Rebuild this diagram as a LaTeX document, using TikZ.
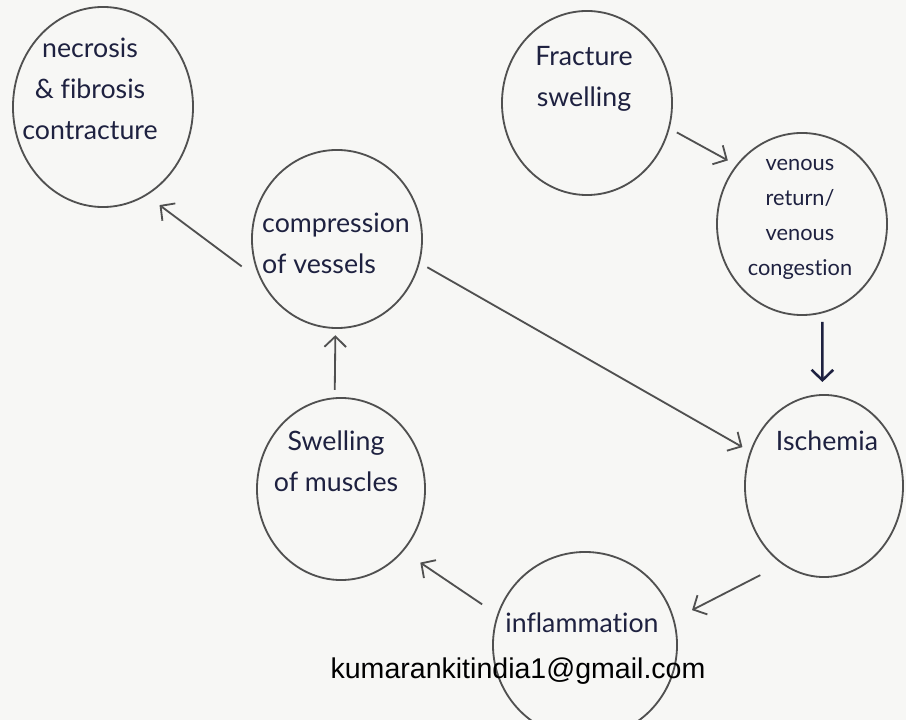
\documentclass[tikz,border=0pt]{standalone}
\usepackage{fontspec}
\setmainfont{Lato}[Ligatures=NoCommon]
\newfontfamily\mailfont{Liberation Sans}
\usetikzlibrary{shapes.geometric,arrows.meta}

\definecolor{ink}{HTML}{1E2140}
\definecolor{pencil}{HTML}{505050}
\definecolor{paper}{HTML}{F7F7F5}

\tikzset{
  bubble/.style={ellipse, draw=pencil, line width=1.3pt, inner sep=0pt, outer sep=0pt},
  note/.style={text=ink, inner sep=0pt, font=\fontsize{19}{29}\selectfont},
  flow/.style={draw=pencil, line width=1.3pt, -{Straight Barb[length=2.6mm,width=5.4mm]}},
}

\begin{document}
\begin{tikzpicture}[x=0.025cm, y=-0.025cm]
	\fill[paper] (0,0) rectangle (906,720);
	\clip (0,0) rectangle (906,720);
	% circles
	\node[bubble, minimum width=4.5cm, minimum height=5cm] (necr) at (103,107) {};
	\node[bubble, minimum width=4.25cm, minimum height=4.6cm] (frac) at (587,103) {};
	\node[bubble, minimum width=4.25cm, minimum height=4.55cm] (ven) at (802,224) {};
	\node[bubble, minimum width=4.25cm, minimum height=4.45cm] (comp) at (337,239) {};
	\node[bubble, minimum width=4.2cm, minimum height=4.55cm] (swel) at (341,489) {};
	\node[bubble, minimum width=3.95cm, minimum height=4.55cm] (isch) at (824,486) {};
	\node[bubble, minimum width=4.6cm, minimum height=4.65cm] (infl) at (585,645) {};
	% labels
	\node[note, align=center] (necrT) at (90,89) {necrosis\\\& fibrosis\\contracture};
	\node[note, align=center] (fracT) at (584,79) {Fracture\\swelling};
	\node[note, align=center, font=\fontsize{15.5}{24.9}\selectfont] (venT) at (800,219) {venous\\return/\\venous\\congestion};
	\node[note, align=left] (compT) at (336,243) {compression\\of vessels};
	\node[note, align=center] (swelT) at (336,461) {Swelling\\of muscles};
	\node[note, anchor=base] (ischT) at (827,450) {Ischemia};
	\node[note, anchor=base] (inflT) at (582,632) {inflammation};
	\node[anchor=base, inner sep=0pt, font=\mailfont\fontsize{20.3}{24}\selectfont] (mail) at (518,678) {kumarankitindia1@gmail.com};
	% arrows
	\draw[flow, shorten <=0.65cm, shorten >=0.425cm] (comp.210) -- (necr.-64);
	\draw[flow, shorten <=0.23cm, shorten >=0.26cm] (frac.-17) -- (ven.138);
	\draw[flow, draw=ink, line width=1.8pt, shorten <=0.24cm, shorten >=0.325cm] (ven.-77) -- (isch.91);
	\draw[flow, shorten <=0.24cm, shorten >=0.24cm] (comp.-16.5) -- (isch.155.7);
	\draw[flow, shorten <=0.63cm, shorten >=0.52cm] (isch.-118) -- (infl.16);
	\draw[flow, shorten <=0.475cm, shorten >=0.53cm] (infl.161.4) -- (swel.-45.3);
	\draw[flow, shorten <=0.21cm, shorten >=0.18cm] (swel.94.4) -- (comp.-91.9);
\end{tikzpicture}
\end{document}
